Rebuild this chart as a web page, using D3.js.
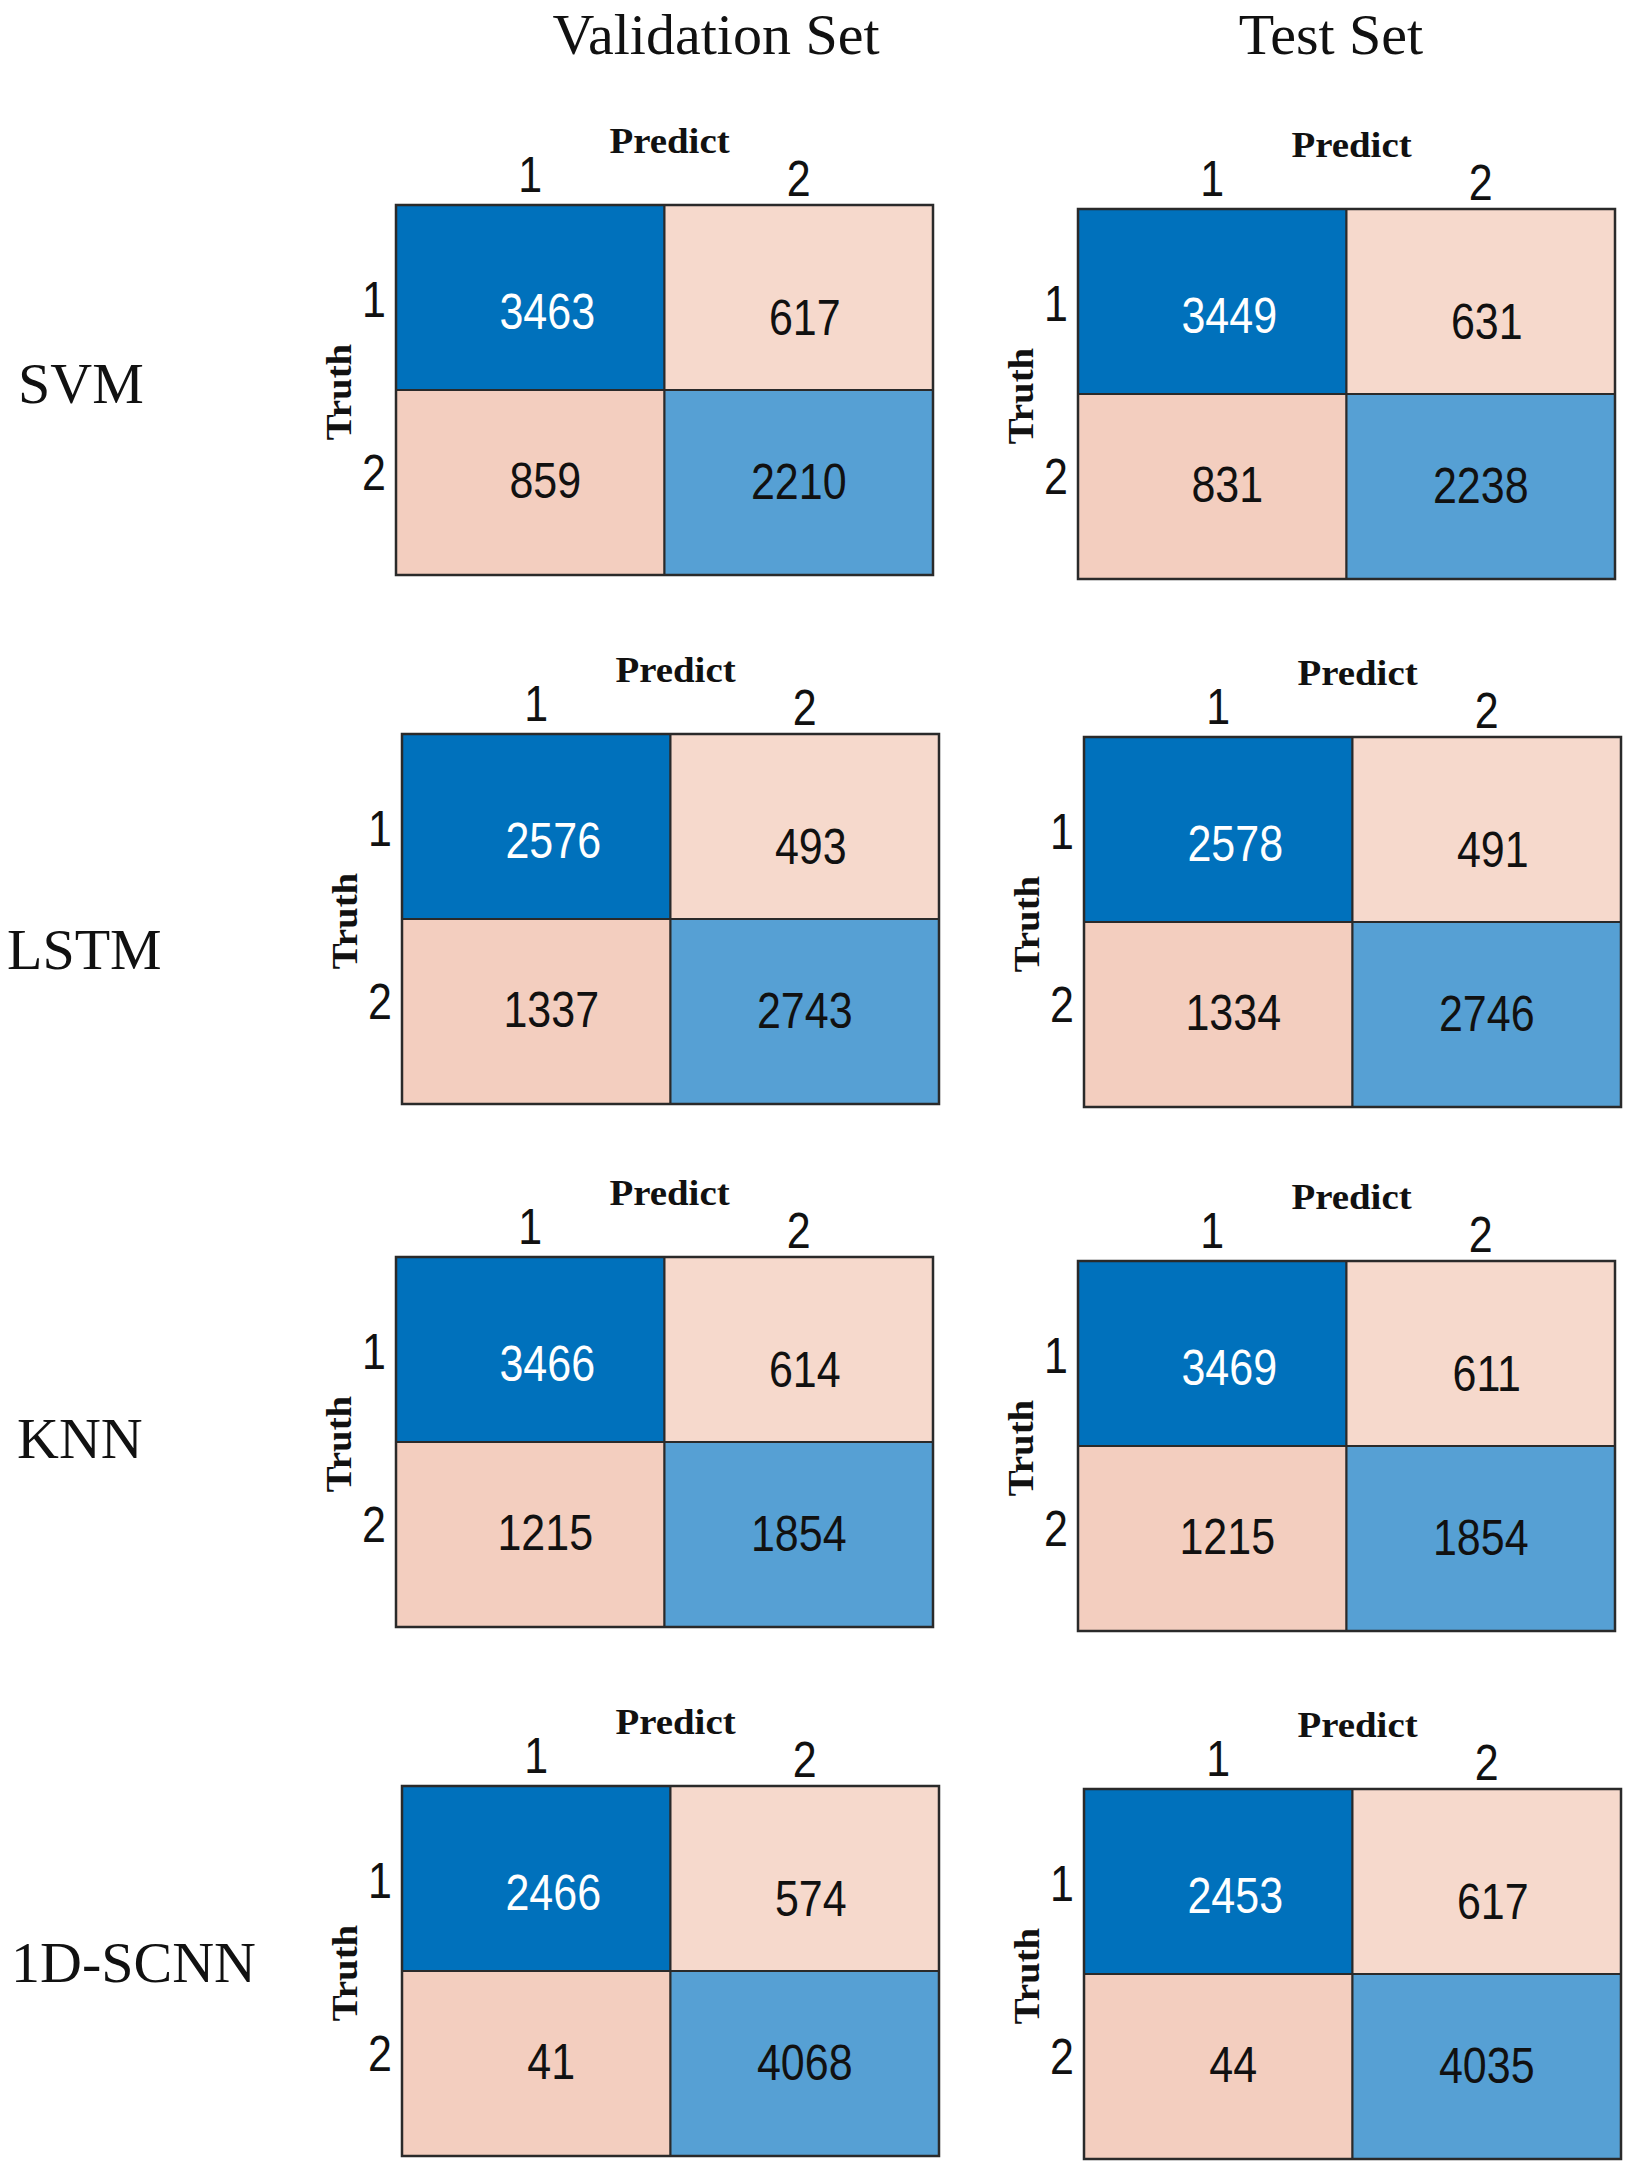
<!DOCTYPE html>
<html>
<head>
<meta charset="utf-8">
<script src="https://cdn.jsdelivr.net/npm/d3@7"></script>
<style>
  html, body { margin: 0; padding: 0; background: #ffffff; }
  svg { display: block; }
</style>
</head>
<body>
<svg id="chart" width="1628" height="2167"></svg>
<script>
// ---------------- DATA ----------------
const models = ["SVM", "LSTM", "KNN", "1D-SCNN"];
const sets = ["Validation Set", "Test Set"];
const classLabels = ["1", "2"];
const predictTitle = "Predict";
const truthTitle = "Truth";

// confusion matrices: [truth row][predicted column]
const validationValues = [
  [[3463, 617], [859, 2210]],
  [[2576, 493], [1337, 2743]],
  [[3466, 614], [1215, 1854]],
  [[2466, 574], [41, 4068]]
];
const testValues = [
  [[3449, 631], [831, 2238]],
  [[2578, 491], [1334, 2746]],
  [[3469, 611], [1215, 1854]],
  [[2453, 617], [44, 4035]]
];

// ---------------- LAYOUT / STYLE ----------------
const W = 1628, H = 2167;
const matW = 537, matH = 370;
const matLeft = [396, 1078];              // per set
const rowShift = [0, 6, 0, 6];            // per model row, horizontal shift
const matTop = [[205, 209], [734, 737], [1257, 1261], [1786, 1789]];
const titleX = [716, 1331];
const titleBaseline = 54;
const rowLabelX = [18, 7, 17, 11];
const rowLabelDy = [13, 50, 16, 11];
const sansStretch = 1.15;                 // digits in the figure are slightly tall

const serif = "'Liberation Serif', 'Times New Roman', Times, serif";
const sans = "'Liberation Sans', Arial, Helvetica, sans-serif";

const cellRole = (r, c) => (r === c ? (r === 0 ? "diagA" : "diagB") : (r === 0 ? "offA" : "offB"));
const fillScale = d3.scaleOrdinal()
  .domain(["diagA", "diagB", "offA", "offB"])
  .range(["#0071BC", "#56A0D4", "#F6D9CC", "#F3CEBF"]);
const textScale = d3.scaleOrdinal()
  .domain(["diagA", "diagB", "offA", "offB"])
  .range(["#ffffff", "#111111", "#111111", "#111111"]);
// small label nudges seen in the original figure
const labelNudge = { diagA: [17, 14], offA: [6, 20], offB: [15, -2], diagB: [0, -1] };

const svg = d3.select("#chart");
svg.append("rect").attr("width", W).attr("height", H).attr("fill", "#fff");

// Column titles
sets.forEach((s, i) => {
  svg.append("text")
    .attr("x", titleX[i]).attr("y", titleBaseline)
    .attr("text-anchor", "middle")
    .attr("font-family", serif).attr("font-size", 58)
    .attr("fill", "#111")
    .text(s);
});

// Row labels
models.forEach((m, r) => {
  const cy = matTop[r][0] + matH / 2;
  svg.append("text")
    .attr("x", rowLabelX[r]).attr("y", cy + rowLabelDy[r])
    .attr("font-family", serif).attr("font-size", 58)
    .attr("fill", "#111")
    .text(m);
});

const xBand = d3.scaleBand().domain(classLabels).range([0, matW]);
const yBand = d3.scaleBand().domain(classLabels).range([0, matH]);

function sansText(sel, size) {
  return sel.attr("font-family", sans).attr("font-size", size);
}

function drawMatrix(values, left, top) {
  const g = svg.append("g").attr("transform", `translate(${left},${top})`);
  const cells = [];
  values.forEach((row, r) => row.forEach((v, c) => cells.push({ r, c, v, role: cellRole(r, c) })));

  g.selectAll("rect.cell").data(cells).enter().append("rect")
    .attr("class", "cell")
    .attr("x", d => xBand(classLabels[d.c]))
    .attr("y", d => yBand(classLabels[d.r]))
    .attr("width", xBand.bandwidth())
    .attr("height", yBand.bandwidth())
    .attr("fill", d => fillScale(d.role))
    .attr("stroke", "#2a2a2a").attr("stroke-width", 2);

  g.append("rect").attr("x", 0).attr("y", 0).attr("width", matW).attr("height", matH)
    .attr("fill", "none").attr("stroke", "#2a2a2a").attr("stroke-width", 2.5);

  sansText(g.selectAll("text.val").data(cells).enter().append("text"), 43)
    .attr("class", "val")
    .attr("transform", d => {
      const x = xBand(classLabels[d.c]) + xBand.bandwidth() / 2 + labelNudge[d.role][0];
      const y = yBand(classLabels[d.r]) + yBand.bandwidth() / 2 + labelNudge[d.role][1];
      return `translate(${x},${y}) scale(1,${sansStretch})`;
    })
    .attr("dy", "0.36em")
    .attr("text-anchor", "middle")
    .attr("fill", d => textScale(d.role))
    .text(d => d.v);

  // column tick labels (Predict)
  sansText(g.selectAll("text.ctick").data(classLabels).enter().append("text"), 43)
    .attr("class", "ctick")
    .attr("transform", (d, i) => `translate(${xBand(d) + xBand.bandwidth() / 2},${-13 + i * 4}) scale(1,${sansStretch})`)
    .attr("text-anchor", "middle")
    .attr("fill", "#111")
    .text(d => d);

  // row tick labels (Truth)
  sansText(g.selectAll("text.rtick").data(classLabels).enter().append("text"), 43)
    .attr("class", "rtick")
    .attr("transform", (d, i) => `translate(-10,${yBand(d) + yBand.bandwidth() / 2 + (i === 0 ? 2 : -10)}) scale(1,${sansStretch})`)
    .attr("dy", "0.36em")
    .attr("text-anchor", "end")
    .attr("fill", "#111")
    .text(d => d);

  const pt = g.append("text")
    .attr("x", matW / 2 + 5).attr("y", -52)
    .attr("text-anchor", "middle")
    .attr("font-family", serif).attr("font-weight", "bold").attr("font-size", 36)
    .attr("fill", "#111")
    .text(predictTitle);

  const tt = g.append("text")
    .attr("transform", `translate(${-45},${matH / 2 + 2}) rotate(-90)`)
    .attr("text-anchor", "middle")
    .attr("font-family", serif).attr("font-weight", "bold").attr("font-size", 36)
    .attr("fill", "#111")
    .text(truthTitle);

  [pt, tt].forEach(t => {
    const n = t.node();
    const len = n.getComputedTextLength();
    t.attr("textLength", len * 1.08).attr("lengthAdjust", "spacingAndGlyphs");
  });
}

models.forEach((m, r) => {
  drawMatrix(validationValues[r], matLeft[0] + rowShift[r], matTop[r][0]);
  drawMatrix(testValues[r], matLeft[1] + rowShift[r], matTop[r][1]);
});
</script>
</body>
</html>
